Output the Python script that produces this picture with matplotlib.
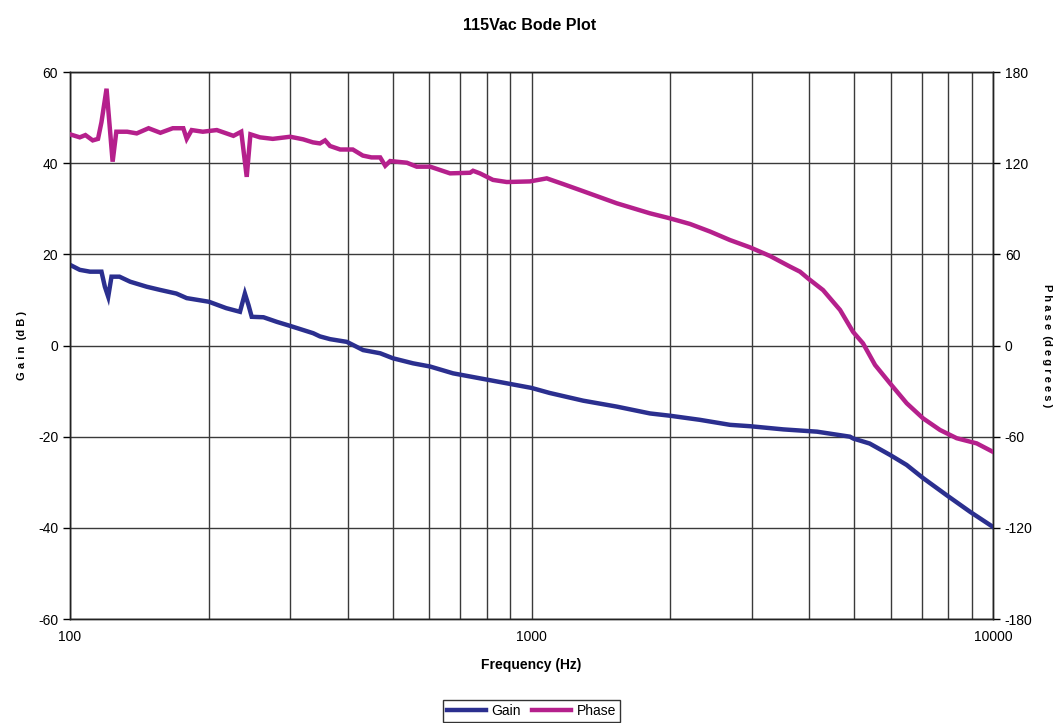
import matplotlib
import matplotlib.pyplot as plt
from matplotlib.ticker import FixedLocator, NullFormatter

matplotlib.use("Agg")

plt.rcParams["font.family"] = ["Liberation Sans", "DejaVu Sans"]
plt.rcParams["axes.unicode_minus"] = False

# Gain curve (Hz, dB)
gain_freq = [100, 105, 110.5, 117, 119, 121, 123, 128, 135, 146.6, 156.7, 170, 179,
             200, 218, 233.5, 239.3, 243.6, 247.6, 262.6, 280.5, 300, 320, 336.5,
             348, 366, 398, 431.6, 470, 501, 553.5, 602.6, 676, 773.5, 1000, 1094,
             1294, 1530, 1806, 1995, 2316, 2692, 2975, 3514, 4157, 4898, 4979, 5404,
             5982, 6499, 7059, 7926, 8925, 10000]
gain_db = [17.7, 16.6, 16.2, 16.2, 12.9, 10.7, 15.1, 15.1, 14.0, 12.9, 12.2, 11.4, 10.4,
           9.6, 8.2, 7.4, 11.4, 8.9, 6.3, 6.2, 5.2, 4.3, 3.4, 2.7,
           2.0, 1.4, 0.8, -1.0, -1.7, -2.8, -3.9, -4.6, -6.1, -7.2, -9.3, -10.4,
           -12.1, -13.4, -14.9, -15.4, -16.3, -17.4, -17.7, -18.4, -18.9, -20.0, -20.4, -21.5,
           -24.0, -26.2, -29.1, -32.8, -36.5, -39.8]

# Phase curve (Hz, degrees)
phase_freq = [100, 105, 108, 112, 115, 117, 120, 123.7, 126, 133, 139.5, 148, 157, 167,
              176, 179, 183.5, 194, 208, 226, 235, 241.5, 246, 258, 275, 300, 320, 336,
              348, 357, 366, 385, 410, 431, 450, 470, 482, 494, 537, 564, 603, 666, 736,
              747, 773, 825, 884, 992, 1079, 1170, 1274, 1530, 1806, 1995, 2205, 2437,
              2692, 2975, 3288, 3633, 3817, 3972, 4282, 4662, 4974, 5228, 5551, 5982,
              6501, 7052, 7677, 8342, 9218, 10000]
phase_deg = [139, 137, 138.5, 135, 136, 147, 169, 121, 140.7, 140.7, 139.6, 143, 140, 143,
             143, 136, 141.8, 140.7, 141.8, 138, 140.7, 111, 139, 137, 136, 137.4, 135.7, 133.7,
             133, 135, 131.3, 129, 129, 125, 123.8, 123.8, 118.3, 121.4, 120.3, 117.7, 117.7, 113.3, 113.7,
             115, 113.3, 109, 107.6, 108, 110, 106.3, 102.3, 93.6, 87, 83.7, 80, 75,
             69.4, 64.6, 58.9, 51.9, 48.6, 44.2, 36.5, 23.4, 9, 1.4, -12.8, -24.9,
             -38, -47.9, -55.6, -61, -64.4, -70]

gain_ticks = [-60, -40, -20, 0, 20, 40, 60]
phase_ticks = [-180, -120, -60, 0, 60, 120, 180]
freq_ticks = [100, 1000, 10000]
freq_grid = [200, 300, 400, 500, 600, 700, 800, 900,
             2000, 3000, 4000, 5000, 6000, 7000, 8000, 9000]

fig = plt.figure(figsize=(10.59, 7.23), dpi=100)
ax = fig.add_axes([0.0661, 0.1438, 0.8716, 0.7566])
ax2 = ax.twinx()

ax.set_xscale("log")
ax.set_xlim(100, 10000)
ax.set_ylim(-60, 60)
ax2.set_ylim(-180, 180)

grid_color = "#3a3a3a"
for g in gain_ticks:
    ax.axhline(g, color=grid_color, lw=1.0, zorder=1)
for f in freq_grid + freq_ticks:
    ax.axvline(f, color=grid_color, lw=1.0, zorder=1)

gain_line, = ax.plot(gain_freq, gain_db, color="#2B2F8F", lw=3.2, zorder=3,
                     solid_joinstyle="miter")
phase_line, = ax2.plot(phase_freq, phase_deg, color="#B5208C", lw=3.2, zorder=3,
                       solid_joinstyle="miter")

ax.xaxis.set_major_locator(FixedLocator(freq_ticks))
ax.xaxis.set_minor_locator(FixedLocator(freq_grid))
ax.xaxis.set_minor_formatter(NullFormatter())
ax.set_xticklabels(["100", "1000", "10000"])
ax.tick_params(axis="x", which="both", length=0, labelsize=10, pad=8)

ax.set_yticks(gain_ticks)
ax.tick_params(axis="y", length=5, width=1, labelsize=10, direction="out")
ax2.set_yticks(phase_ticks)
ax2.tick_params(axis="y", length=5, width=1, labelsize=10, direction="out")

for a in (ax, ax2):
    for s in a.spines.values():
        s.set_color("#222222")
        s.set_linewidth(1.0)

ax.set_xlabel("Frequency (Hz)", fontsize=10, fontweight="bold", labelpad=10)
ax.set_ylabel("G a i n  (d B )", fontsize=8, fontweight="bold", labelpad=8)
ax2.set_ylabel("P h a s e  (d e g r e e s )", fontsize=8, fontweight="bold",
               rotation=-90, labelpad=14)

fig.suptitle("115Vac Bode Plot", fontsize=11.5, fontweight="bold", y=0.975)

leg = fig.legend([gain_line, phase_line], ["Gain", "Phase"], loc="center",
                 bbox_to_anchor=(0.502, 0.017), ncol=2, fontsize=10,
                 frameon=True, fancybox=False, handlelength=2.8,
                 columnspacing=0.8, handletextpad=0.4, borderpad=0.3)
leg.get_frame().set_edgecolor("black")
leg.get_frame().set_linewidth(1.0)

fig.savefig("out.png", dpi=100)
